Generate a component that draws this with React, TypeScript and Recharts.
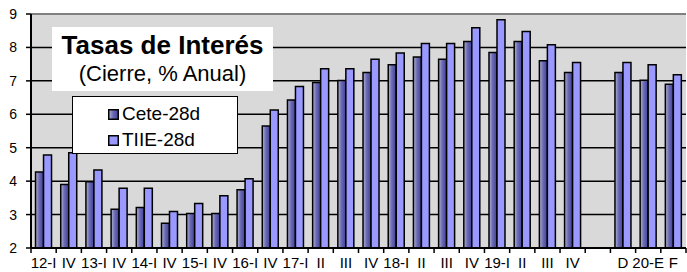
import React from 'react';
import {
  BarChart,
  Bar,
  XAxis,
  YAxis,
  CartesianGrid,
  Legend,
  ReferenceLine,
} from 'recharts';

// Quarter / month labels along the bottom (one blank gap before "D")
const categories = [
  '12-I', 'IV', '13-I', 'IV', '14-I', 'IV', '15-I', 'IV', '16-I', 'IV',
  '17-I', 'II', 'III', 'IV', '18-I', 'II', 'III', 'IV', '19-I', 'II',
  'III', 'IV', '', 'D', '20-E', 'F',
];

const cete28 = [
  4.27, 3.9, 3.98, 3.16, 3.21, 2.74, 3.03, 3.03, 3.74, 5.65,
  6.43, 6.95, 7.01, 7.25, 7.48, 7.71, 7.65, 8.18, 7.85, 8.18,
  7.6, 7.25, null, 7.25, 7.02, 6.9,
];

const tiie28 = [
  4.78, 4.85, 4.33, 3.79, 3.79, 3.09, 3.33, 3.56, 4.07, 6.13,
  6.83, 7.36, 7.36, 7.65, 7.83, 8.12, 8.12, 8.59, 8.83, 8.48,
  8.08, 7.55, null, 7.55, 7.48, 7.18,
];

const yTicks = [2, 3, 4, 5, 6, 7, 8, 9];

const data = categories.map((label, i) => ({
  label,
  Cete: cete28[i],
  TIIE: tiie28[i],
}));

const FONT = "Arial, 'Liberation Sans', sans-serif";
const CETE_COLOR = '#5a5aa8';
const TIIE_COLOR = '#9999ff';

const CHART_W = 687;
const CHART_H = 272;
const PLOT_LEFT = 31;
const PLOT_RIGHT = 686;
const BAND = (PLOT_RIGHT - PLOT_LEFT) / categories.length;

// tick marks sit on the category boundaries, labels in the middle
const XTick = (props: any) => {
  const { x, y, payload, index } = props;
  const left = x - BAND / 2;
  return (
    <g>
      <line x1={left} x2={left} y1={y} y2={y + 5} stroke="#000" strokeWidth={1.5} />
      {index === categories.length - 1 && (
        <line x1={x + BAND / 2} x2={x + BAND / 2} y1={y} y2={y + 5} stroke="#000" strokeWidth={1.5} />
      )}
      <text x={x} y={y + 20} textAnchor="middle" fontSize={15} fill="#000" fontFamily={FONT}>
        {payload.value}
      </text>
    </g>
  );
};

const LegendBox = () => (
  <div
    style={{
      width: 166,
      height: 58,
      boxSizing: 'border-box',
      border: '1.5px solid #000',
      background: '#fff',
      fontFamily: FONT,
      fontSize: 19,
      color: '#000',
      paddingLeft: 35,
      paddingTop: 4,
      lineHeight: '26px',
    }}
  >
    {[
      { name: 'Cete-28d', fill: 'url(#ceteShade)' },
      { name: 'TIIE-28d', fill: TIIE_COLOR },
    ].map((item) => (
      <div key={item.name} style={{ display: 'flex', alignItems: 'center' }}>
        <svg width={11} height={11} style={{ marginRight: 3 }}>
          <rect x={0.75} y={0.75} width={9.5} height={9.5} fill={item.fill} stroke="#000" strokeWidth={1.5} />
        </svg>
        <span>{item.name}</span>
      </div>
    ))}
  </div>
);

export default function App() {
  return (
    <div style={{ position: 'absolute', left: 0, top: 0, width: CHART_W, height: CHART_H, background: '#fff' }}>
      <BarChart
        width={CHART_W}
        height={CHART_H}
        data={data}
        margin={{ top: 14, right: CHART_W - PLOT_RIGHT, left: 0, bottom: 0 }}
        barCategoryGap="18%"
        barGap={0}
      >
        <defs>
          <linearGradient id="ceteShade" x1="0" y1="0" x2="1" y2="0">
            <stop offset="0%" stopColor="#b4b4d2" />
            <stop offset="45%" stopColor="#6a6ab4" />
            <stop offset="100%" stopColor="#40409a" />
          </linearGradient>
        </defs>
        <CartesianGrid
          vertical={false}
          fill="#d9d9d9"
          stroke="#000"
          strokeWidth={1.5}
          strokeOpacity={1}
        />
        <XAxis
          dataKey="label"
          height={CHART_H - 248}
          interval={0}
          tickLine={false}
          tickSize={0}
          tickMargin={0}
          tick={<XTick />}
          axisLine={{ stroke: '#000', strokeWidth: 2 }}
        />
        <YAxis
          width={PLOT_LEFT}
          domain={[2, 9]}
          ticks={yTicks}
          interval={0}
          tickSize={5}
          tickMargin={9}
          tickLine={{ stroke: '#000', strokeWidth: 1.5 }}
          axisLine={{ stroke: '#000', strokeWidth: 2 }}
          tick={{ fontSize: 14, fill: '#000', fontFamily: FONT }}
        />
        <ReferenceLine y={9} stroke="#808080" strokeWidth={2} />
        <Bar
          dataKey="Cete"
          name="Cete-28d"
          fill="url(#ceteShade)"
          stroke="#000"
          strokeWidth={1.5}
          isAnimationActive={false}
        />
        <Bar
          dataKey="TIIE"
          name="TIIE-28d"
          fill={TIIE_COLOR}
          stroke="#000"
          strokeWidth={1.5}
          isAnimationActive={false}
        />
        <Legend
          layout="horizontal"
          verticalAlign="middle"
          align="center"
          content={() => <LegendBox />}
          wrapperStyle={{ position: 'absolute', left: 72, top: 96, width: 166, height: 58 }}
        />
      </BarChart>
      <div
        style={{
          position: 'absolute',
          left: 52,
          top: 27,
          width: 221,
          height: 64,
          background: '#fff',
          fontFamily: FONT,
          color: '#000',
          textAlign: 'center',
        }}
      >
        <div style={{ fontSize: 26, fontWeight: 'bold', lineHeight: '30px', marginTop: 3 }}>
          Tasas de Interés
        </div>
        <div style={{ fontSize: 22, lineHeight: '26px', marginTop: 1 }}>(Cierre, % Anual)</div>
      </div>
    </div>
  );
}
